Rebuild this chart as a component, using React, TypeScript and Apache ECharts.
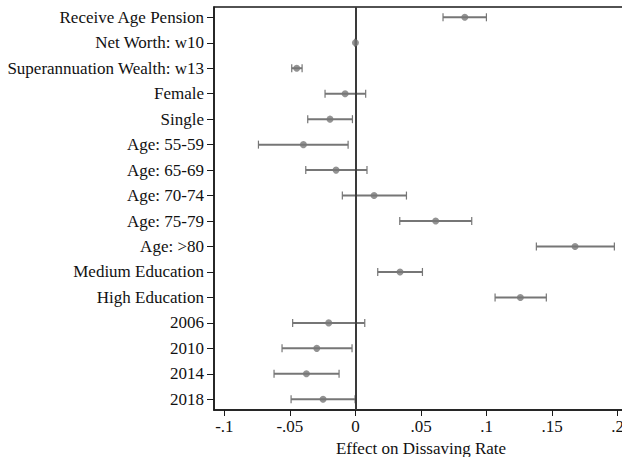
import React, { useEffect, useRef } from "react";
import * as echarts from "echarts";

// Regressors, top to bottom
const categories = [
  "Receive Age Pension",
  "Net Worth: w10",
  "Superannuation Wealth: w13",
  "Female",
  "Single",
  "Age: 55-59",
  "Age: 65-69",
  "Age: 70-74",
  "Age: 75-79",
  "Age: >80",
  "Medium Education",
  "High Education",
  "2006",
  "2010",
  "2014",
  "2018",
];

// Point estimates and 95% confidence bounds
const estimates = [
  0.0834, 0.0, -0.0448, -0.0079, -0.0194, -0.0397, -0.0148, 0.0142, 0.0612,
  0.1675, 0.034, 0.1258, -0.0204, -0.0295, -0.0374, -0.0247,
];
const lowerBounds = [
  0.0668, -0.0004, -0.0486, -0.0232, -0.0364, -0.074, -0.0379, -0.01, 0.0338,
  0.138, 0.017, 0.1065, -0.0479, -0.056, -0.0621, -0.0491,
];
const upperBounds = [
  0.0999, 0.0004, -0.0407, 0.0078, -0.0023, -0.0056, 0.0088, 0.0389, 0.0887,
  0.1975, 0.0511, 0.1456, 0.0071, -0.0026, -0.0125, -0.0003,
];

const xTicks = [-0.1, -0.05, 0, 0.05, 0.1, 0.15, 0.2];
const xTickLabels = ["-.1", "-.05", "0", ".05", ".1", ".15", ".2"];
const xTitle = "Effect on Dissaving Rate";

const FONT = "'Liberation Serif', 'Times New Roman', serif";

export default function App() {
  const ref = useRef<HTMLDivElement>(null);

  useEffect(() => {
    if (!ref.current) return;
    const chart = echarts.init(ref.current, undefined, { renderer: "svg" });
    const rows = categories.map((_, i) => i + 1);

    const ciData = categories.map((_, i) => [lowerBounds[i], upperBounds[i], i + 1]);
    const pointData = categories.map((_, i) => [estimates[i], i + 1]);

    chart.setOption({
      animation: false,
      backgroundColor: "#ffffff",
      grid: {
        left: 214,
        right: 2,
        top: 7,
        bottom: 47,
        containLabel: false,
        outerBoundsMode: "none",
        show: true,
        borderColor: "#1a1a1a",
        borderWidth: 1.5,
        backgroundColor: "transparent",
      },
      xAxis: {
        type: "value",
        min: -0.1079,
        max: 0.2079,
        splitLine: { show: false },
        axisLine: { show: true, onZero: false, lineStyle: { color: "#1a1a1a", width: 1.5 } },
        axisTick: {
          show: true,
          length: 6,
          customValues: xTicks,
          lineStyle: { color: "#1a1a1a", width: 1 },
        },
        axisLabel: {
          customValues: xTicks,
          formatter: (v: number) => {
            const idx = xTicks.findIndex((t) => Math.abs(t - v) < 1e-9);
            return idx >= 0 ? xTickLabels[idx] : "";
          },
          fontFamily: FONT,
          fontSize: 17,
          color: "#111",
          margin: 8,
        },
        name: xTitle,
        nameLocation: "middle",
        nameGap: 25,
        nameTextStyle: { fontFamily: FONT, fontSize: 17, color: "#111" },
      },
      yAxis: {
        type: "value",
        inverse: true,
        min: 0.596,
        max: 16.42,
        splitLine: { show: false },
        axisLine: { show: true, onZero: false, lineStyle: { color: "#1a1a1a", width: 1.5 } },
        axisTick: {
          show: true,
          length: 7,
          customValues: rows,
          lineStyle: { color: "#1a1a1a", width: 1 },
        },
        axisLabel: {
          customValues: rows,
          formatter: (v: number) => categories[Math.round(v) - 1] ?? "",
          fontFamily: FONT,
          fontSize: 17,
          color: "#111",
          margin: 10,
        },
      },
      series: [
        {
          type: "custom",
          name: "ci",
          data: ciData,
          encode: { x: [0, 1], y: 2 },
          renderItem: (params: any, api: any) => {
            const lo = api.coord([api.value(0), api.value(2)]);
            const hi = api.coord([api.value(1), api.value(2)]);
            const cap = 4;
            const style = { stroke: "#767676", lineWidth: 2 };
            const capStyle = { stroke: "#767676", lineWidth: 1.2 };
            return {
              type: "group",
              children: [
                { type: "line", shape: { x1: lo[0], y1: lo[1], x2: hi[0], y2: hi[1] }, style },
                { type: "line", shape: { x1: lo[0], y1: lo[1] - cap, x2: lo[0], y2: lo[1] + cap }, style: capStyle },
                { type: "line", shape: { x1: hi[0], y1: hi[1] - cap, x2: hi[0], y2: hi[1] + cap }, style: capStyle },
              ],
            };
          },
          z: 2,
        },
        {
          type: "scatter",
          name: "estimate",
          data: pointData,
          symbol: "circle",
          symbolSize: 7,
          itemStyle: { color: "#787878" },
          z: 4,
          markLine: {
            silent: true,
            symbol: "none",
            label: { show: false },
            lineStyle: { color: "#3a3a3a", width: 2, type: "solid" },
            data: [{ xAxis: 0 }],
            z: 3,
          },
        },
      ],
    });

    return () => chart.dispose();
  }, []);

  return (
    <div
      style={{
        position: "fixed",
        left: 0,
        top: 0,
        width: 622,
        height: 457,
        overflow: "hidden",
        background: "#fff",
      }}
    >
      <div ref={ref} style={{ width: 630, height: 457 }} />
    </div>
  );
}
